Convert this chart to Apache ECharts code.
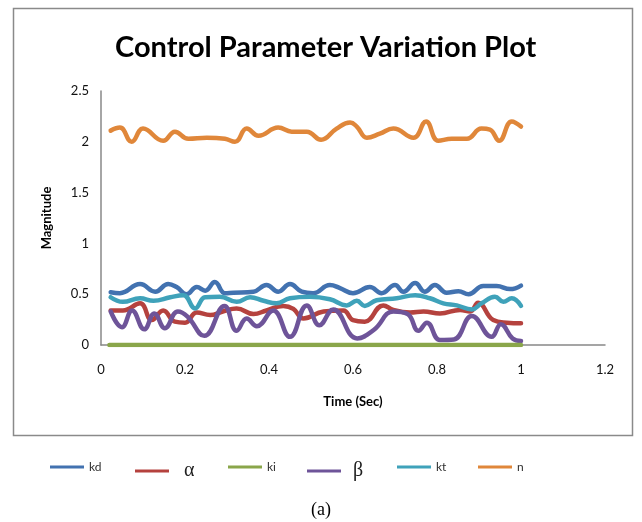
<!DOCTYPE html>
<html>
<head>
<meta charset="utf-8">
<script src="https://cdn.jsdelivr.net/npm/echarts@6/dist/echarts.min.js"></script>
<style>
  html, body { margin: 0; padding: 0; background: #ffffff; }
  #chart { width: 642px; height: 522px; }
</style>
</head>
<body>
<div id="chart"></div>
<script>
// Control parameters sampled over time: [time (s), magnitude]
const kd = [[0.023,0.52],[0.045,0.51],[0.093,0.60],[0.129,0.525],[0.160,0.60],[0.180,0.57],[0.204,0.50],[0.228,0.57],[0.248,0.535],[0.271,0.62],[0.295,0.51],[0.315,0.515],[0.363,0.525],[0.394,0.59],[0.422,0.525],[0.450,0.60],[0.478,0.525],[0.505,0.51],[0.545,0.59],[0.569,0.56],[0.600,0.51],[0.640,0.57],[0.668,0.51],[0.700,0.59],[0.720,0.525],[0.748,0.61],[0.771,0.525],[0.795,0.59],[0.823,0.515],[0.851,0.53],[0.875,0.50],[0.910,0.58],[0.942,0.58],[0.974,0.55],[1.000,0.585]];
const alpha = [[0.023,0.34],[0.052,0.34],[0.093,0.41],[0.121,0.245],[0.148,0.34],[0.176,0.23],[0.200,0.22],[0.228,0.32],[0.260,0.295],[0.290,0.33],[0.323,0.36],[0.363,0.305],[0.394,0.34],[0.434,0.385],[0.458,0.355],[0.482,0.26],[0.530,0.33],[0.577,0.34],[0.600,0.245],[0.628,0.23],[0.672,0.39],[0.696,0.345],[0.736,0.32],[0.768,0.33],[0.807,0.31],[0.855,0.345],[0.879,0.33],[0.898,0.415],[0.934,0.245],[0.966,0.22],[1.000,0.215]];
const ki = [[0.02,0],[1.0,0]];
const beta = [[0.023,0.33],[0.050,0.175],[0.074,0.34],[0.103,0.155],[0.127,0.31],[0.152,0.165],[0.183,0.33],[0.206,0.28],[0.246,0.09],[0.294,0.385],[0.323,0.14],[0.347,0.26],[0.371,0.185],[0.410,0.34],[0.450,0.08],[0.490,0.39],[0.520,0.195],[0.553,0.35],[0.610,0.065],[0.650,0.15],[0.696,0.33],[0.730,0.305],[0.756,0.14],[0.776,0.22],[0.807,0.05],[0.840,0.055],[0.883,0.285],[0.930,0.08],[0.952,0.205],[0.980,0.065],[1.000,0.04]];
const kt = [[0.023,0.47],[0.052,0.425],[0.093,0.46],[0.125,0.435],[0.165,0.47],[0.196,0.49],[0.224,0.36],[0.248,0.47],[0.283,0.475],[0.323,0.425],[0.355,0.47],[0.387,0.435],[0.418,0.41],[0.450,0.46],[0.497,0.475],[0.545,0.45],[0.585,0.39],[0.609,0.435],[0.628,0.385],[0.656,0.44],[0.704,0.46],[0.748,0.49],[0.783,0.46],[0.815,0.41],[0.847,0.39],[0.883,0.35],[0.906,0.41],[0.938,0.475],[0.958,0.425],[0.978,0.46],[1.000,0.385]];
const n = [[0.023,2.11],[0.045,2.14],[0.073,2.00],[0.100,2.13],[0.148,2.01],[0.176,2.10],[0.208,2.03],[0.252,2.04],[0.295,2.03],[0.319,2.00],[0.347,2.13],[0.375,2.06],[0.422,2.14],[0.454,2.10],[0.490,2.10],[0.524,2.02],[0.561,2.13],[0.593,2.19],[0.609,2.15],[0.633,2.04],[0.664,2.08],[0.696,2.13],[0.744,2.04],[0.774,2.20],[0.803,2.01],[0.835,2.03],[0.871,2.03],[0.906,2.13],[0.926,2.12],[0.948,2.01],[0.978,2.20],[1.000,2.15]];

const seriesNames = ['kd', 'α', 'ki', 'β', 'kt', 'n'];
const seriesData = [kd, alpha, ki, beta, kt, n];
const colors = ['#4272B0', '#B5423E', '#8AA64A', '#6E5499', '#3FA2BA', '#E0873A'];

// Axis ranges and tick steps
const xRange = [0, 1.2, 0.2];
const yRange = [0, 2.5, 0.5];

const legendLeft = [45, 130, 223, 302, 392, 473];

const chart = echarts.init(document.getElementById('chart'), null, { renderer: 'canvas' });

const baseFont = 'Lato, "Open Sans", sans-serif';
const serifFont = '"Liberation Serif", "DejaVu Serif", serif';

const option = {
  backgroundColor: '#ffffff',
  animation: false,
  title: [{
    text: 'Control Parameter Variation Plot',
    left: 110,
    top: 28,
    textStyle: { fontFamily: baseFont, fontWeight: 'bold', fontSize: 29, color: '#000000' }
  }, {
    text: '(a)',
    left: 'center',
    top: 496,
    textStyle: { fontFamily: serifFont, fontWeight: 'normal', fontSize: 18, color: '#000000' }
  }],
  graphic: [{
    type: 'rect',
    shape: { x: 13.5, y: 8.5, width: 619, height: 427 },
    style: { fill: 'none', stroke: '#8a8a8a', lineWidth: 1.5 },
    silent: true
  }],
  grid: { left: 101, right: 37, top: 91, bottom: 177, containLabel: false },
  xAxis: {
    type: 'value',
    min: xRange[0], max: xRange[1], interval: xRange[2],
    name: 'Time (Sec)',
    nameLocation: 'middle',
    nameGap: 50,
    nameTextStyle: { fontFamily: baseFont, fontWeight: 'bold', fontSize: 13, color: '#000000' },
    axisLine: { show: true, lineStyle: { color: '#888888', width: 1.5 } },
    axisTick: { show: false },
    splitLine: { show: false },
    axisLabel: { fontFamily: baseFont, fontSize: 13, color: '#111111', margin: 18 }
  },
  yAxis: {
    type: 'value',
    min: yRange[0], max: yRange[1], interval: yRange[2],
    name: 'Magnitude',
    nameLocation: 'middle',
    nameGap: 48,
    nameRotate: 90,
    nameTextStyle: { fontFamily: baseFont, fontWeight: 'bold', fontSize: 13, color: '#000000' },
    axisLine: { show: true, lineStyle: { color: '#888888', width: 1.5 } },
    axisTick: { show: false },
    splitLine: { show: false },
    axisLabel: { fontFamily: baseFont, fontSize: 13, color: '#111111', margin: 12 }
  },
  legend: seriesNames.map((name, i) => ({
    data: [name],
    left: legendLeft[i],
    top: 456,
    icon: 'rect',
    itemWidth: 34,
    itemHeight: 3,
    itemGap: 0,
    selectedMode: false,
    textStyle: {
      fontFamily: baseFont, fontSize: 12, color: '#303030',
      rich: {
        alpha: { fontFamily: serifFont, fontSize: 20, color: '#202020', padding: [0, 0, 0, 10] },
        beta: { fontFamily: serifFont, fontSize: 20, color: '#202020', padding: [0, 0, 0, 7] }
      }
    },
    formatter: (nm) => nm === 'α' ? '{alpha|' + nm + '}' : (nm === 'β' ? '{beta|' + nm + '}' : nm)
  })),
  series: seriesNames.map((name, i) => ({
    name: name,
    type: 'line',
    data: seriesData[i],
    smooth: 0.45,
    showSymbol: false,
    symbol: 'none',
    color: colors[i],
    lineStyle: { width: 4.5, color: colors[i], cap: 'round', join: 'round' },
    z: i === 2 ? 3 : 2
  }))
};

chart.setOption(option);
</script>
</body>
</html>
